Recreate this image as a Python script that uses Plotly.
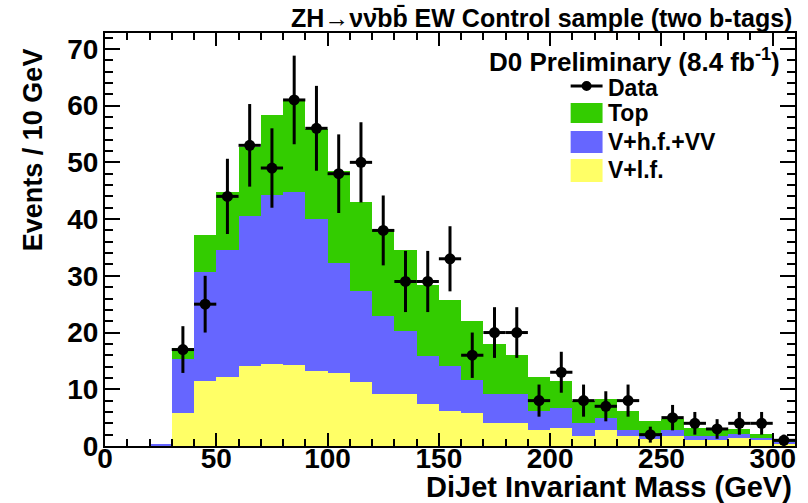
import plotly.graph_objects as go

# ---------------- data ----------------
bin_centers = [25, 35, 45, 55, 65, 75, 85, 95, 105, 115, 125, 135, 145, 155, 165,
               175, 185, 195, 205, 215, 225, 235, 245, 255, 265, 275, 285, 295, 305]
v_lf = [0.15, 5.9, 11.4, 12.2, 14.1, 14.4, 14.3, 13.2, 12.9, 11.2, 9.2, 9.2, 7.4, 6.2, 5.8,
        4.1, 4.1, 2.8, 3.2, 1.7, 2.9, 1.7, 1.4, 1.7, 1.1, 1.1, 1.4, 1.1, 0.5]
v_hf_vv = [0.25, 9.4, 19.3, 22.4, 26.4, 29.9, 30.5, 26.8, 19.4, 16.2, 13.7, 11.1, 8.5, 7.9, 5.9,
           5.1, 5.0, 3.3, 3.5, 2.4, 2.1, 1.2, 0.3, 1.2, 0.6, 0.6, 0.7, 0.3, 0.3]
top = [0.0, 1.9, 6.5, 10.2, 12.2, 14.1, 16.0, 15.9, 16.1, 15.6, 15.1, 14.2, 12.4, 11.6, 10.4,
       8.7, 7.0, 6.0, 4.8, 3.8, 3.2, 3.2, 2.7, 1.8, 1.5, 1.5, 0.9, 0.7, 0.2]

data_x = [35, 45, 55, 65, 75, 85, 95, 105, 115, 125, 135, 145, 155, 165, 175, 185,
          195, 205, 215, 225, 235, 245, 255, 265, 275, 285, 295, 305]
data_y = [17, 25, 44, 53, 49, 61, 56, 48, 50, 38, 29, 29, 33, 16, 20, 20,
          8, 13, 8, 7, 8, 2, 5, 4, 3, 4, 4, 1]
data_err = [4.12, 5.0, 6.63, 7.28, 7.0, 7.81, 7.48, 6.93, 7.07, 6.16, 5.39, 5.39, 5.74, 4.0,
            4.47, 4.47, 2.83, 3.61, 2.83, 2.65, 2.83, 1.41, 2.24, 2.0, 1.73, 2.0, 2.0, 1.0]
bin_half_width = 5

x_tick_vals = [0, 50, 100, 150, 200, 250, 300]
y_tick_vals = [0, 10, 20, 30, 40, 50, 60, 70]

GREEN = "#33cc00"
BLUE = "#6666ff"
YELLOW = "#ffff66"

FONT = "Liberation Sans, Arial, Helvetica, sans-serif"

W, H = 808, 503
ML, MR, MT, MB = 105, 11, 33, 57
PW, PH = W - ML - MR, H - MT - MB


def px(x):
    return (x - ML) / PW


def py(y):
    return (H - MB - y) / PH


fig = go.Figure()
for name, vals, col in [("V+l.f.", v_lf, YELLOW), ("V+h.f.+VV", v_hf_vv, BLUE), ("Top", top, GREEN)]:
    fig.add_trace(go.Bar(x=bin_centers, y=vals, width=10, name=name,
                         marker=dict(color=col, line=dict(width=0)), showlegend=False))

fig.add_trace(go.Scatter(
    x=data_x, y=data_y, mode="markers", name="Data", showlegend=False,
    marker=dict(color="black", size=11),
    error_y=dict(type="data", array=data_err, color="black", thickness=3, width=0),
    error_x=dict(type="constant", value=bin_half_width, color="black", thickness=3, width=0),
))

axis_common = dict(
    showline=True, linecolor="black", linewidth=2, mirror="allticks",
    ticks="inside", tickcolor="black", tickwidth=2,
    showgrid=False, zeroline=False,
    tickfont=dict(family=FONT, size=28, color="black", weight="bold"),
)

fig.update_xaxes(range=[0, 310], tickvals=x_tick_vals, ticklen=13, ticklabelstandoff=-14,
                 minor=dict(ticks="inside", dtick=10, ticklen=7, tickcolor="black", tickwidth=2),
                 **axis_common)
fig.update_yaxes(range=[0, 72.8], tickvals=y_tick_vals, ticklen=15, ticklabelstandoff=-1,
                 minor=dict(ticks="inside", dtick=2, ticklen=8, tickcolor="black", tickwidth=2),
                 **axis_common)

ann = []
ann.append(dict(text="ZH\u2192\u03bd\u03bd\u0304bb\u0304 EW Control sample (two b-tags)",
                x=px(796), y=py(18), xanchor="right", yanchor="middle",
                font=dict(family=FONT, size=25, color="black", weight="bold")))
ann.append(dict(text="DiJet Invariant Mass (GeV)",
                x=px(796), y=py(487), xanchor="right", yanchor="middle",
                font=dict(family=FONT, size=29, color="black", weight="bold")))
ann.append(dict(text="Events / 10 GeV", textangle=-90,
                x=px(33), y=py(150), xanchor="center", yanchor="middle",
                font=dict(family=FONT, size=27, color="black", weight="bold")))
ann.append(dict(text="D0 Preliminary (8.4 fb<sup>-1</sup>)",
                x=px(784), y=py(60), xanchor="right", yanchor="middle",
                font=dict(family=FONT, size=26, color="black", weight="bold")))

legend_items = [("Data", 88), ("Top", 113), ("V+h.f.+VV", 142), ("V+l.f.", 170)]
for txt, yc in legend_items:
    ann.append(dict(text=txt, x=px(607), y=py(yc), xanchor="left", yanchor="middle",
                    font=dict(family=FONT, size=23, color="black", weight="bold")))
for a in ann:
    a.update(xref="paper", yref="paper", showarrow=False)

shapes = []
for col, (y0, y1) in [(GREEN, (103, 123)), (BLUE, (131, 153)), (YELLOW, (159, 182))]:
    shapes.append(dict(type="rect", xref="paper", yref="paper",
                       x0=px(572), x1=px(604), y0=py(y1), y1=py(y0),
                       fillcolor=col, line=dict(width=0)))
shapes.append(dict(type="line", xref="paper", yref="paper",
                   x0=px(572), x1=px(604), y0=py(86), y1=py(86),
                   line=dict(color="black", width=3)))
r = 5
shapes.append(dict(type="circle", xref="paper", yref="paper",
                   x0=px(588 - r), x1=px(588 + r), y0=py(86 + r), y1=py(86 - r),
                   fillcolor="black", line=dict(color="black", width=0)))

fig.update_layout(
    width=W, height=H, margin=dict(l=ML, r=MR, t=MT, b=MB),
    paper_bgcolor="white", plot_bgcolor="white",
    barmode="stack", bargap=0,
    annotations=ann, shapes=shapes, showlegend=False,
)

fig.write_html("out.html")
